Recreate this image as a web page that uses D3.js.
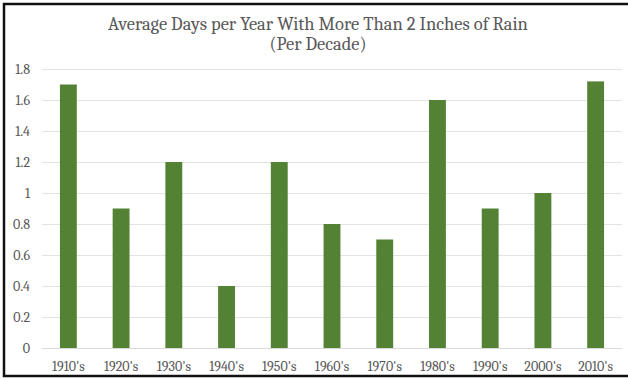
<!DOCTYPE html>
<html>
<head>
<meta charset="utf-8">
<script src="https://cdn.jsdelivr.net/npm/d3@7/dist/d3.min.js"></script>
<style>
  html, body { margin: 0; padding: 0; background: #fff; }
  svg { display: block; }
</style>
</head>
<body>
<svg id="chart" width="628" height="379"></svg>
<script>
// Decades and average days per year with more than 2 inches of rain
const decades = ["1910's", "1920's", "1930's", "1940's", "1950's", "1960's",
                 "1970's", "1980's", "1990's", "2000's", "2010's"];
const avgDays = [1.7, 0.9, 1.2, 0.4, 1.2, 0.8, 0.7, 1.6, 0.9, 1.0, 1.72];
const yTicks = [0, 0.2, 0.4, 0.6, 0.8, 1, 1.2, 1.4, 1.6, 1.8];
const titleLines = ["Average Days per Year With More Than 2 Inches of Rain", "(Per Decade)"];

const W = 628, H = 379;
const margin = { top: 69, right: 6, bottom: 31, left: 42 };
const svg = d3.select("#chart");
const font = "Cambria, 'Liberation Serif', 'DejaVu Serif', serif";
const textColor = "#595959";

// outer frame
svg.append("rect")
  .attr("x", 4).attr("y", 4)
  .attr("width", W + 10).attr("height", H - 7)
  .attr("fill", "#fff")
  .attr("stroke", "#111").attr("stroke-width", 2.5);

const x = d3.scaleBand()
  .domain(decades)
  .range([margin.left, W - margin.right])
  .paddingInner(0.68)
  .paddingOuter(0.34);

const y = d3.scaleLinear()
  .domain([0, 1.8])
  .range([H - margin.bottom, margin.top]);

// gridlines
svg.append("g")
  .selectAll("line")
  .data(yTicks.filter(d => d > 0))
  .join("line")
  .attr("x1", margin.left).attr("x2", W - margin.right)
  .attr("y1", d => Math.round(y(d)) + 0.5).attr("y2", d => Math.round(y(d)) + 0.5)
  .attr("stroke", "#e3e3e3").attr("stroke-width", 1);

// y axis labels
const yAxis = d3.axisLeft(y).tickValues(yTicks).tickSize(0).tickPadding(0)
  .tickFormat(d => d3.format("")(+d.toFixed(1)));
svg.append("g")
  .attr("transform", `translate(30,0)`)
  .call(yAxis)
  .call(g => g.select(".domain").remove())
  .call(g => g.selectAll("text")
    .attr("fill", textColor)
    .style("font-family", font)
    .style("font-size", "14px"));

// bars
svg.append("g")
  .selectAll("rect")
  .data(avgDays)
  .join("rect")
  .attr("x", (d, i) => x(decades[i]))
  .attr("width", x.bandwidth())
  .attr("y", d => y(d))
  .attr("height", d => y(0) - y(d))
  .attr("fill", "#548235");

// baseline
svg.append("line")
  .attr("x1", margin.left).attr("x2", W - margin.right)
  .attr("y1", Math.round(y(0)) + 0.5).attr("y2", Math.round(y(0)) + 0.5)
  .attr("stroke", "#d9d9d9").attr("stroke-width", 1);

// x axis labels
const xAxis = d3.axisBottom(x).tickSize(0).tickPadding(13);
svg.append("g")
  .attr("transform", `translate(0,${y(0)})`)
  .call(xAxis)
  .call(g => g.select(".domain").remove())
  .call(g => g.selectAll("text")
    .attr("fill", textColor)
    .style("font-family", font)
    .style("font-size", "14px"));

// title
svg.append("text")
  .attr("x", 318).attr("y", 30)
  .attr("text-anchor", "middle")
  .attr("fill", textColor)
  .style("font-family", font)
  .style("font-size", "18.5px")
  .selectAll("tspan")
  .data(titleLines)
  .join("tspan")
  .attr("x", 318)
  .attr("dy", (d, i) => i === 0 ? 0 : 20)
  .text(d => d);
</script>
</body>
</html>
